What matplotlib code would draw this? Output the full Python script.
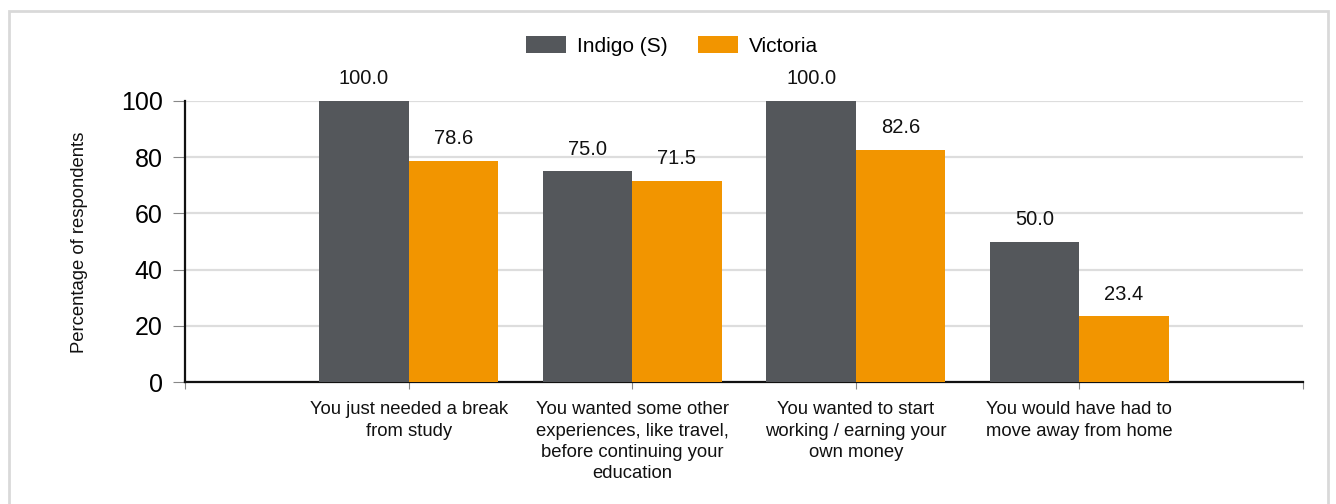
import matplotlib
matplotlib.use("Agg")
import matplotlib.pyplot as plt
import numpy as np
from matplotlib.patches import Rectangle

# --- Data ---
categories = [
    "You just needed a break\nfrom study",
    "You wanted some other\nexperiences, like travel,\nbefore continuing your\neducation",
    "You wanted to start\nworking / earning your\nown money",
    "You would have had to\nmove away from home",
]
indigo = [100.0, 75.0, 100.0, 50.0]
victoria = [78.6, 71.5, 82.6, 23.4]
series_names = ["Indigo (S)", "Victoria"]

DARK = "#54575b"
ORANGE = "#f29500"

plt.rcParams["font.family"] = ["Liberation Sans", "DejaVu Sans"]

fig = plt.figure(figsize=(13.36, 5.04), dpi=100)
ax = fig.add_axes([185 / 1336, 1 - 382 / 504, (1303 - 185) / 1336, (382 - 101) / 504])

# light frame around the whole chart
fig.patches.append(Rectangle((9 / 1336, -0.05), (1328 - 9) / 1336, 1 - 11 / 504 + 0.05,
                             transform=fig.transFigure, fill=False,
                             edgecolor="#d9d9d9", lw=2))

x = np.arange(1, len(categories) + 1)
w = 0.4
b1 = ax.bar(x - w / 2, indigo, w, color=DARK, label=series_names[0], zorder=3)
b2 = ax.bar(x + w / 2, victoria, w, color=ORANGE, label=series_names[1], zorder=3)

for bars, vals in [(b1, indigo), (b2, victoria)]:
    for bar, v in zip(bars, vals):
        ax.text(bar.get_x() + bar.get_width() / 2, v + 4.5, f"{v:.1f}",
                ha="center", va="bottom", fontsize=14.5, color="#111111")

ax.set_xlim(0, len(categories) + 1)
ax.set_ylim(0, 100)
ax.set_yticks([0, 20, 40, 60, 80, 100])
ax.yaxis.grid(True, color="#dddddd", lw=1.6, zorder=0)
ax.set_axisbelow(True)

ax.set_xticks(np.arange(0, len(categories) + 2))
ax.set_xticklabels([""] + categories + [""], fontsize=13.3, color="#111111",
                   linespacing=1.32)
ax.tick_params(axis="x", length=5, color="#888888", pad=9)
ax.tick_params(axis="y", length=9, color="#888888", labelsize=18, pad=7)

for s in ["top", "right"]:
    ax.spines[s].set_visible(False)
for s in ["left", "bottom"]:
    ax.spines[s].set_linewidth(1.6)
    ax.spines[s].set_color("#111111")

fig.text(80 / 1336, 1 - 242 / 504, "Percentage of respondents", rotation=90,
         ha="center", va="center", fontsize=13.3, color="#111111")

fig.legend(loc="center", bbox_to_anchor=(672 / 1336, 1 - 46 / 504), ncol=2,
           frameon=False, fontsize=15, handlelength=1.92, handleheight=0.87,
           columnspacing=1.44, handletextpad=0.53)

fig.savefig("out.png", dpi=100)
